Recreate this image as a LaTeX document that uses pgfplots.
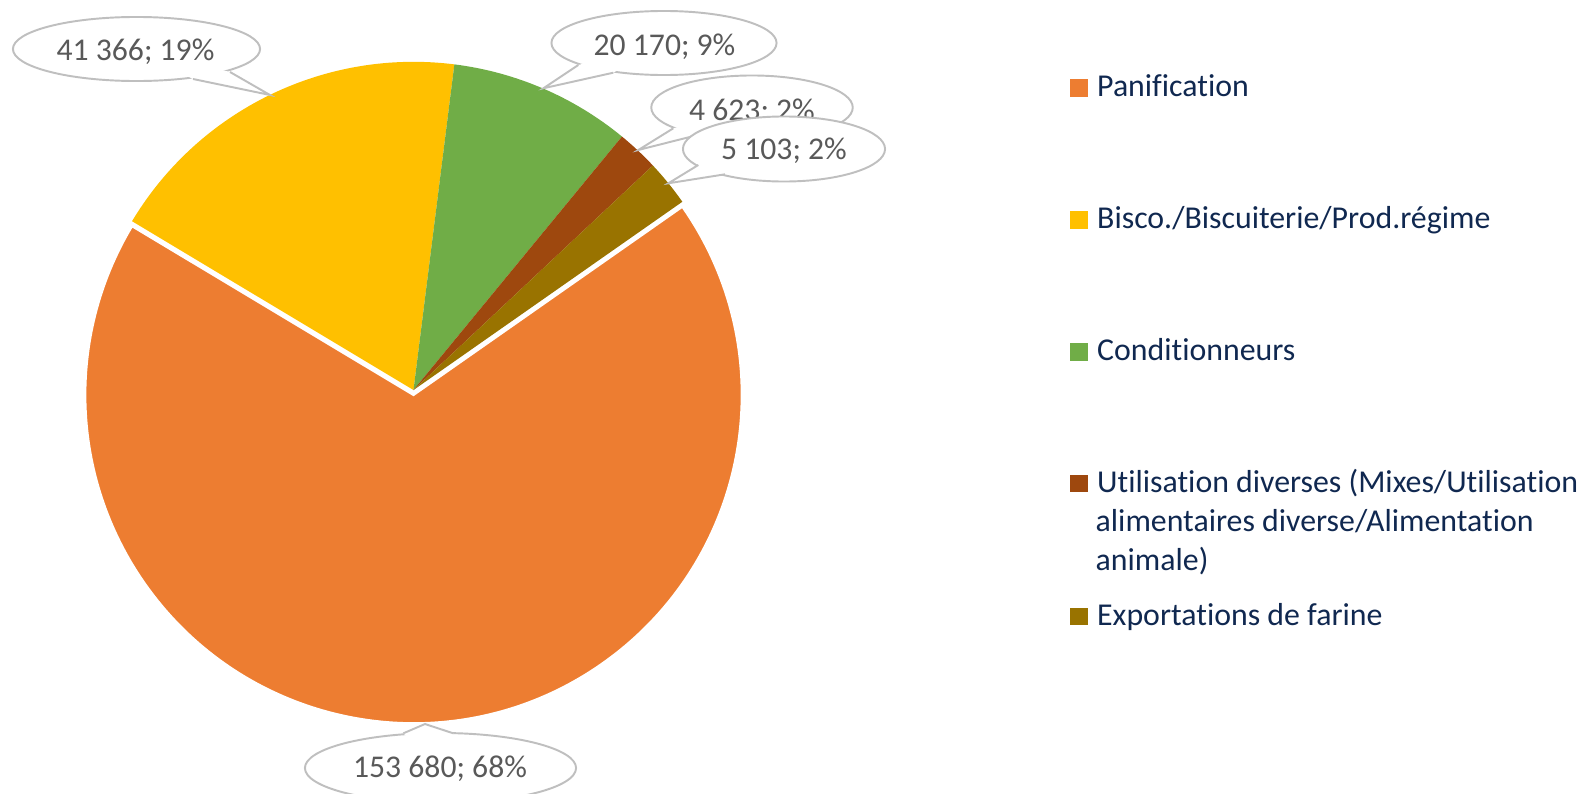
\documentclass[border=0pt]{standalone}
\usepackage{pgfplots}
\pgfplotsset{compat=1.18}
\usepackage{pgfplotstable}
\usepackage{fontspec}
\setmainfont{Carlito}[Ligatures={NoCommon}]
\definecolor{cPan}{HTML}{ED7D31}
\definecolor{cBis}{HTML}{FFC000}
\definecolor{cCon}{HTML}{70AD47}
\definecolor{cUti}{HTML}{9E480E}
\definecolor{cExp}{HTML}{997300}
\definecolor{lgray}{HTML}{BFBFBF}
\definecolor{ltext}{HTML}{595959}
\definecolor{legtext}{RGB}{16,40,80}

\pgfplotstableread{
label value
Panification 153680
Bisco 41366
Conditionneurs 20170
Utilisation 4623
Exportations 5103
}\piedata

\begin{document}
\pgfplotstablegetelem{0}{value}\of\piedata\edef\vA{\pgfplotsretval}%
\pgfplotstablegetelem{1}{value}\of\piedata\edef\vB{\pgfplotsretval}%
\pgfplotstablegetelem{2}{value}\of\piedata\edef\vC{\pgfplotsretval}%
\pgfplotstablegetelem{3}{value}\of\piedata\edef\vD{\pgfplotsretval}%
\pgfplotstablegetelem{4}{value}\of\piedata\edef\vE{\pgfplotsretval}%
\edef\T{\fpeval{\vA+\vB+\vC+\vD+\vE}}%
\def\aA{35}%
\edef\aB{\fpeval{round(\aA-360*\vA/\T,4)}}%
\edef\aC{\fpeval{round(\aB-360*\vB/\T,4)}}%
\edef\aD{\fpeval{round(\aC-360*\vC/\T,4)}}%
\edef\aE{\fpeval{round(\aD-360*\vD/\T,4)}}%
\edef\aF{\fpeval{round(\aE-360*\vE/\T,4)}}%
\def\R{3.28cm}%
\begin{tikzpicture}
\begin{axis}[name=ax, at={(0,0)}, anchor=south west,
  x=0.01cm, y=0.01cm, xmin=0, xmax=1586, ymin=0, ymax=793,
  hide axis, clip=false]
\addplot[draw=none] coordinates {(0,0) (1586,793)};
% slices
\fill[cBis] (axis cs:413.5,403) -- ++(\aB:\R) arc[start angle=\aB, end angle=\aC, radius=\R] -- cycle;
\fill[cCon] (axis cs:413.5,403) -- ++(\aC:\R) arc[start angle=\aC, end angle=\aD, radius=\R] -- cycle;
\fill[cUti] (axis cs:413.5,403) -- ++(\aD:\R) arc[start angle=\aD, end angle=\aE, radius=\R] -- cycle;
\fill[cExp] (axis cs:413.5,403) -- ++(\aE:\R) arc[start angle=\aE, end angle=\aF, radius=\R] -- cycle;
\filldraw[fill=cPan, draw=white, line width=0.6pt, line join=miter] (axis cs:413.5,398) -- ++(\aA:\R) arc[start angle=\aA, end angle=\aB, radius=\R] -- cycle;
% callouts
\tikzset{co/.style={draw=lgray, line width=0.55pt, fill=white}, tl/.style={draw=lgray, line width=0.55pt, line join=miter},
  lb/.style={anchor=base, inner sep=0, text=ltext, font=\fontsize{9.0}{10}\selectfont}}
% 41 366
\draw[co] (axis cs:136.5,744) ellipse[x radius=1.235cm, y radius=0.32cm];
\fill[white] (axis cs:230,721) -- (axis cs:270,698) -- (axis cs:193,714) -- (axis cs:136.5,744) -- cycle;
\draw[tl] (axis cs:230,721) -- (axis cs:270,698) -- (axis cs:193,714);
\node[lb] at (axis cs:135.5,732) {41 366; 19\%};
% 20 170
\draw[co] (axis cs:664,750) ellipse[x radius=1.125cm, y radius=0.32cm];
\fill[white] (axis cs:578.3,728) -- (axis cs:543.3,704.7) -- (axis cs:613.3,720.3) -- (axis cs:664,750) -- cycle;
\draw[tl] (axis cs:578.3,728) -- (axis cs:543.3,704.7) -- (axis cs:613.3,720.3);
\node[lb] at (axis cs:664.5,738) {20 170; 9\%};
% 4 623
\draw[co] (axis cs:752,685.5) ellipse[x radius=1.007cm, y radius=0.32cm];
\fill[white] (axis cs:673.3,664.7) -- (axis cs:638.3,643) -- (axis cs:700,658.6) -- (axis cs:752,685.5) -- cycle;
\draw[tl] (axis cs:673.3,664.7) -- (axis cs:638.3,643) -- (axis cs:700,658.6);
\node[lb] at (axis cs:752,673) {4 623; 2\%};
% 5 103
\draw[co] (axis cs:784,644) ellipse[x radius=1.01cm, y radius=0.325cm];
\fill[white] (axis cs:698.3,628) -- (axis cs:668.3,609.7) -- (axis cs:725,618.7) -- (axis cs:784,644) -- cycle;
\draw[tl] (axis cs:698.3,628) -- (axis cs:668.3,609.7) -- (axis cs:725,618.7);
\node[lb] at (axis cs:784,634) {5 103; 2\%};
% 153 680
\draw[co] (axis cs:440.5,25) ellipse[x radius=1.355cm, y radius=0.35cm];
\fill[white] (axis cs:403.3,59.7) -- (axis cs:425,69) -- (axis cs:453.3,59.7) -- (axis cs:440.5,25) -- cycle;
\draw[tl] (axis cs:403.3,59.7) -- (axis cs:425,69) -- (axis cs:453.3,59.7);
\node[lb] at (axis cs:440,16) {153 680; 68\%};
% legend
\tikzset{lg/.style={anchor=base west, inner sep=0, text=legtext, font=\fontsize{9.05}{11}\selectfont}}
\fill[cPan] (axis cs:1070,696.3) rectangle (axis cs:1087.5,713.7);
\node[lg] at (axis cs:1096.5,696.3) {Panification};
\fill[cBis] (axis cs:1070,564.4) rectangle (axis cs:1087.5,581.8);
\node[lg] at (axis cs:1096.5,564.4) {Bisco./Biscuiterie/Prod.régime};
\fill[cCon] (axis cs:1070,432.5) rectangle (axis cs:1087.5,449.9);
\node[lg] at (axis cs:1096.5,432.5) {Conditionneurs};
\fill[cUti] (axis cs:1070,300.7) rectangle (axis cs:1087.5,318.1);
\node[lg] at (axis cs:1096.5,300.7) {Utilisation diverses (Mixes/Utilisation};
\node[lg] at (axis cs:1095,261.3) {alimentaires diverse/Alimentation};
\node[lg] at (axis cs:1095,223) {animale)};
\fill[cExp] (axis cs:1070,168) rectangle (axis cs:1087.5,185.4);
\node[lg] at (axis cs:1096.5,168) {Exportations de farine};
\end{axis}
\pgfresetboundingbox
\path (ax.south west) rectangle (ax.north east);
\end{tikzpicture}
\end{document}
